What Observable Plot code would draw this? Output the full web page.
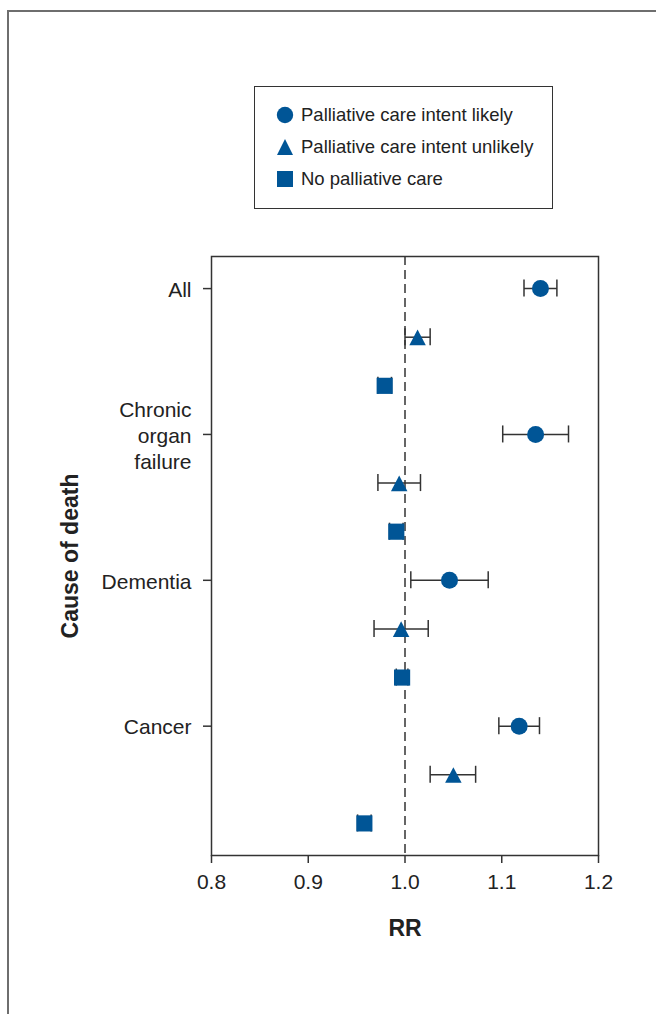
<!DOCTYPE html>
<html>
<head>
<meta charset="utf-8">
<script src="https://cdn.jsdelivr.net/npm/d3@7"></script>
<script src="https://cdn.jsdelivr.net/npm/@observablehq/plot@0.6"></script>
<style>
  html, body { margin: 0; padding: 0; background: #fff; }
  body { width: 656px; height: 1014px; position: relative; overflow: hidden;
         font-family: "Liberation Sans", Arial, Helvetica, sans-serif; color: #222; }
  #page { position: absolute; left: 7px; top: 10px; right: -2px; bottom: -2px;
          border-top: 2px solid #6e6e6e; border-left: 2px solid #6e6e6e; }
  #chart { position: absolute; left: 0; top: 0; }
  #legend { position: absolute; left: 254px; top: 86px; width: 299px; height: 123px;
            border: 1.2px solid #333; box-sizing: border-box; background: #fff; }
  .item { position: absolute; left: 0; height: 24px; display: flex; align-items: center;
          font-size: 18.5px; color: #222; white-space: nowrap; }
  .item svg { position: absolute; left: 21px; }
  .item span { position: absolute; left: 46px; }
</style>
</head>
<body>
<div id="page"></div>
<div id="chart"></div>
<div id="legend"></div>
<script>
// ---- data ----
const causes = ["All", "Chronic organ failure", "Dementia", "Cancer"];
const causeTickLabels = ["All", "Chronic\norgan\nfailure", "Dementia", "Cancer"];
const groups = ["Palliative care intent likely", "Palliative care intent unlikely", "No palliative care"];
// relative risk (RR) per cause, in group order
const rrAll      = [1.140, 1.013, 0.979];
const rrChronic  = [1.135, 0.994, 0.991];
const rrDementia = [1.046, 0.996, 0.997];
const rrCancer   = [1.118, 1.050, 0.958];
// lower 95% CI
const loAll      = [1.123, 1.000, 0.972];
const loChronic  = [1.101, 0.972, 0.984];
const loDementia = [1.006, 0.968, 0.991];
const loCancer   = [1.097, 1.026, 0.951];
// upper 95% CI
const hiAll      = [1.157, 1.026, 0.986];
const hiChronic  = [1.169, 1.016, 0.998];
const hiDementia = [1.086, 1.024, 1.003];
const hiCancer   = [1.139, 1.073, 0.965];
const xTicks = [0.8, 0.9, 1.0, 1.1, 1.2];
const reference = [1.0];

const rrs = [rrAll, rrChronic, rrDementia, rrCancer];
const los = [loAll, loChronic, loDementia, loCancer];
const his = [hiAll, hiChronic, hiDementia, hiCancer];

const rows = [];
causes.forEach((c, ci) => groups.forEach((g, gi) => {
  rows.push({row: ci * 3 + gi, cause: c, group: g, rr: rrs[ci][gi], lo: los[ci][gi], hi: his[ci][gi]});
}));
const causeRows = causes.map((c, i) => i * 3);

// ---- symbols ----
const blue = "#005596";
const triangleSym = {
  draw(ctx, size) {
    const r = Math.sqrt(size / Math.PI);
    ctx.moveTo(0, -r * 0.9);
    ctx.lineTo(r * 0.97, r * 0.95);
    ctx.lineTo(-r * 0.97, r * 0.95);
    ctx.closePath();
  }
};
const squareSym = {
  draw(ctx, size) {
    const r = Math.sqrt(size / Math.PI) * 0.95;
    ctx.rect(-r, -r, 2 * r, 2 * r);
  }
};
const circleSym = {
  draw(ctx, size) {
    const r = Math.sqrt(size / Math.PI);
    ctx.moveTo(r, 0);
    ctx.arc(0, 0, r, 0, 2 * Math.PI);
  }
};

const ink = "#333";
const chart = Plot.plot({
  width: 656,
  height: 1000,
  marginLeft: 211,
  marginRight: 58,
  marginTop: 256,
  marginBottom: 145,
  style: {fontFamily: '"Liberation Sans", Arial, Helvetica, sans-serif', fontSize: "21px", color: "#222", background: "transparent"},
  x: {domain: [0.8, 1.2]},
  y: {domain: [-0.66, 11.66], reverse: true, axis: null},
  symbol: {domain: groups, range: [circleSym, triangleSym, squareSym]},
  marks: [
    Plot.frame({stroke: ink, strokeWidth: 1.5}),
    Plot.ruleX(reference, {stroke: ink, strokeWidth: 1.5, strokeDasharray: "9,5"}),
    Plot.axisX(xTicks, {tickFormat: d3.format(".1f"), tickSize: 8, tickPadding: 11, fontSize: 21, stroke: ink, strokeWidth: 1.5, label: null}),
    Plot.axisY(causeRows, {tickFormat: (d) => causeTickLabels[d / 3], tickSize: 8, tickPadding: 12, fontSize: 21, lineHeight: 1.23, stroke: ink, strokeWidth: 1.5, label: null}),
    Plot.text(["RR"], {frameAnchor: "bottom", dy: 80, fontWeight: "bold", fontSize: 23, fill: "#222"}),
    Plot.text(["Cause of death"], {frameAnchor: "left", textAnchor: "middle", dx: -141, rotate: -90, fontWeight: "bold", fontSize: 23, fill: "#222"}),
    Plot.link(rows, {x1: "lo", x2: "hi", y1: "row", y2: "row", stroke: ink, strokeWidth: 1.5}),
    Plot.ruleX(rows, {x: "lo", y1: (d) => d.row - 0.175, y2: (d) => d.row + 0.175, stroke: ink, strokeWidth: 1.5}),
    Plot.ruleX(rows, {x: "hi", y1: (d) => d.row - 0.175, y2: (d) => d.row + 0.175, stroke: ink, strokeWidth: 1.5}),
    Plot.dot(rows, {x: "rr", y: "row", symbol: "group", r: 8.5, fill: blue, stroke: "none"})
  ]
});
document.getElementById("chart").appendChild(chart);

// ---- legend ----
const legend = document.getElementById("legend");
const legendTops = [16, 48, 80];
const shapes = [
  '<circle cx="9" cy="9" r="8.2" fill="' + blue + '"/>',
  '<path d="M9,1 L17,17 L1,17 Z" fill="' + blue + '"/>',
  '<rect x="1" y="1" width="16" height="16" fill="' + blue + '"/>'
];
groups.forEach((g, i) => {
  const div = document.createElement("div");
  div.className = "item";
  div.style.top = legendTops[i] + "px";
  div.innerHTML = '<svg width="18" height="18" viewBox="0 0 18 18">' + shapes[i] + '</svg><span>' + g + '</span>';
  legend.appendChild(div);
});
</script>
</body>
</html>
